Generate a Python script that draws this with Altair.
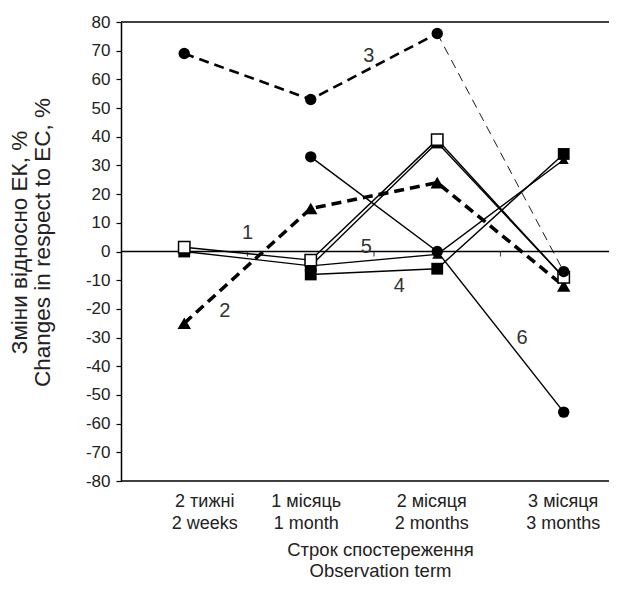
import altair as alt
import pandas as pd

terms = [1, 2, 3, 4]
term_ua = ["2 тижні", "1 місяць", "2 місяця", "3 місяця"]
term_en = ["2 weeks", "1 month", "2 months", "3 months"]

s1 = [1.5, -3, 39, -9]      # open squares, thin solid
s1b = [0, -5, 38, -9]       # filled squares, thin solid
s2 = [-25, 15, 24, -12]     # triangles, thick dashed
s3 = [69, 53, 76, -7]       # circles, dashed
s4 = [None, -8, -6, 34]     # filled squares, thin solid
s5 = [None, -5, -1, 32]     # triangles, thin solid
s6 = [None, 33, 0, -56]     # circles, thin solid

ann_text = ["1", "2", "3", "4", "5", "6"]
ann_x = [1.50, 1.32, 2.46, 2.70, 2.44, 3.67]
ann_y = [6.6, -20.9, 68.3, -12.2, 1.4, -30.3]

FONT = "Liberation Sans"

series = {"s1": s1, "s1b": s1b, "s2": s2, "s3": s3, "s4": s4, "s5": s5, "s6": s6}
marker = {"s1": "open", "s1b": "square", "s2": "tri", "s3": "circle",
          "s4": "square", "s5": "tri_small", "s6": "circle"}

pts = []
for name, vals in series.items():
    for t, v in zip(terms, vals):
        if v is not None:
            pts.append({"series": name, "t": t, "v": v, "m": marker[name]})
pts = pd.DataFrame(pts)

lines = []
for name, vals in series.items():
    for i, (t, v) in enumerate(zip(terms, vals)):
        if v is None:
            continue
        if name == "s3":
            if i <= 2:
                lines.append({"seg": "s3a", "t": t, "v": v, "style": "meddash"})
            if i >= 2:
                lines.append({"seg": "s3b", "t": t, "v": v, "style": "thindash"})
        elif name == "s2":
            lines.append({"seg": name, "t": t, "v": v, "style": "thickdash"})
        else:
            lines.append({"seg": name, "t": t, "v": v, "style": "thin"})
lines = pd.DataFrame(lines)

xscale = alt.Scale(domain=[0.5, 4.358], nice=False, zero=False)
yscale = alt.Scale(domain=[-80, 80], nice=False)

label_expr = "[" + ",".join(
    "['%s','%s']" % (a, b) for a, b in zip(term_ua, term_en)) + "][datum.value - 1]"

xaxis = alt.Axis(
    values=terms, labelExpr=label_expr, domain=False, ticks=False, grid=False,
    labelFont=FONT, labelFontSize=18, labelColor="#222", labelBaseline="top",
    labelPadding=11, labelLineHeight=22,
    labelOffset={"condition": [
        {"test": "datum.value == 1", "value": 20},
        {"test": "datum.value == 2", "value": -5},
        {"test": "datum.value == 3", "value": -6}], "value": -1},
    title=["Строк спостереження", "Observation term"],
    titleFont=FONT, titleFontSize=18.5, titleFontWeight="normal", titleColor="#222",
    titleLineHeight=21, titleX=259, titleY=68, titleBaseline="middle",
    titleAlign="center",
)
yaxis = alt.Axis(
    values=list(range(-80, 81, 10)), grid=False, domainColor="black", domainWidth=1.5,
    tickColor="black", tickSize=5, tickWidth=1.2, labelExpr="datum.value + ''",
    labelFont=FONT, labelFontSize=17, labelColor="#222", labelPadding=6,
    title=["Зміни відносно ЕК, %", "Changes in respect to EC, %"],
    titleFont=FONT, titleFontSize=22.5, titleFontWeight="normal", titleColor="#222",
    titleLineHeight=23, titleX=-102, titleY=220, titleAngle=-90,
    titleBaseline="middle", titleAlign="center",
)

X = alt.X("t:Q", scale=xscale, axis=xaxis)
Y = alt.Y("v:Q", scale=yscale, axis=yaxis)

base_lines = alt.Chart(lines)

thin = base_lines.transform_filter("datum.style == 'thin'").mark_line(
    color="black", strokeWidth=1.4).encode(x=X, y=Y, detail="seg:N", order="t:Q")
meddash = base_lines.transform_filter("datum.style == 'meddash'").mark_line(
    color="black", strokeWidth=2.6, strokeDash=[10, 6]).encode(x=X, y=Y, detail="seg:N", order="t:Q")
thindash = base_lines.transform_filter("datum.style == 'thindash'").mark_line(
    color="black", strokeWidth=0.9, strokeDash=[9, 6]).encode(x=X, y=Y, detail="seg:N", order="t:Q")
thickdash = base_lines.transform_filter("datum.style == 'thickdash'").mark_line(
    color="black", strokeWidth=3.6, strokeDash=[10, 6]).encode(x=X, y=Y, detail="seg:N", order="t:Q")

bp = alt.Chart(pts)
sq = bp.transform_filter("datum.m == 'square'").mark_point(
    shape="square", filled=True, color="black", size=140, opacity=1).encode(x=X, y=Y)
tri = bp.transform_filter("datum.m == 'tri'").mark_point(
    shape="triangle-up", filled=True, color="black", size=180, opacity=1).encode(x=X, y=Y)
tris = bp.transform_filter("datum.m == 'tri_small'").mark_point(
    shape="triangle-up", filled=True, color="black", size=100, opacity=1).encode(x=X, y=Y)
circ = bp.transform_filter("datum.m == 'circle'").mark_point(
    shape="circle", filled=True, color="black", size=130, opacity=1).encode(x=X, y=Y)
opensq = bp.transform_filter("datum.m == 'open'").mark_point(
    shape="square", filled=True, fill="white", stroke="black", strokeWidth=1.5,
    size=130, opacity=1).encode(x=X, y=Y)

frame = alt.Chart(pd.DataFrame({"v": [80, -80]})).mark_rule(
    color="black", strokeWidth=1.5).encode(y=alt.Y("v:Q", scale=yscale, axis=yaxis))
zero = alt.Chart(pd.DataFrame({"v": [0]})).mark_rule(
    color="black", strokeWidth=1.3).encode(y=alt.Y("v:Q", scale=yscale, axis=yaxis))
bticks = alt.Chart(pd.DataFrame({"t": [1.5, 2.5, 3.5], "v": [0, 0, 0]})).mark_tick(
    orient="vertical", color="black", size=5, thickness=1.2, yOffset=2.5).encode(x=X, y=Y)

ann = alt.Chart(pd.DataFrame({"txt": ann_text, "t": ann_x, "v": ann_y})).mark_text(
    font=FONT, fontSize=20, color="#333", baseline="middle", align="center").encode(
    x=X, y=Y, text="txt:N")

chart = alt.layer(
    zero, frame, bticks, thin, thindash, meddash, thickdash,
    sq, tris, tri, opensq, circ, ann
).properties(
    width=488, height=459,
    autosize=alt.AutoSizeParams(type="none"),
    padding={"left": 113, "top": 14, "right": 0, "bottom": 101},
).configure_view(stroke=None)

chart.save("out.html", embed_options={"renderer": "svg", "actions": False})
